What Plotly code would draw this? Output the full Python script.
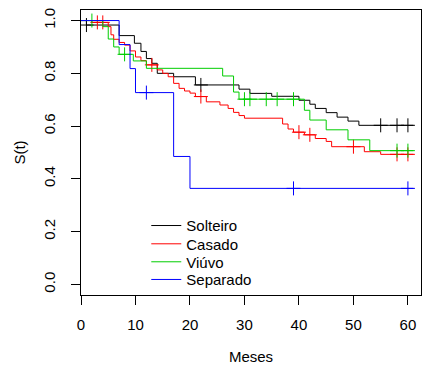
import plotly.graph_objects as go

# ---- data ----
groups = ["Solteiro", "Casado", "Viúvo", "Separado"]
colors = ["#000000", "#FF0000", "#00CD00", "#0000FF"]

solteiro_t = [0, 1, 7, 9.8, 11, 12, 13, 14, 17, 21, 29, 31, 35, 40, 42, 43, 45, 47, 49, 51]
solteiro_s = [1.0, 0.983, 0.943, 0.914, 0.883, 0.856, 0.838, 0.800, 0.787, 0.756,
              0.740, 0.724, 0.713, 0.698, 0.683, 0.667, 0.651, 0.634, 0.619, 0.603]
solteiro_cens = [1, 22, 55, 58, 60]

casado_t = [0, 2, 5, 5.5, 6, 7, 8, 9, 10, 11, 12, 14, 15, 16, 17, 18, 19, 20, 21,
            23, 25.5, 27, 28, 29, 30, 37, 38, 39, 41, 43, 45, 46, 52, 55]
casado_s = [1.0, 0.993, 0.977, 0.946, 0.929, 0.917, 0.907, 0.885, 0.862, 0.848, 0.832,
            0.813, 0.800, 0.787, 0.762, 0.743, 0.733, 0.725, 0.712, 0.692, 0.680, 0.667,
            0.652, 0.640, 0.630, 0.608, 0.589, 0.577, 0.567, 0.553, 0.542, 0.522, 0.503, 0.493]
casado_cens = [3, 4, 13, 22, 40, 42, 50, 58, 60]

viuvo_t = [0, 4, 5, 6, 7, 9.6, 12, 26, 28, 29, 41, 42, 45, 49, 53]
viuvo_s = [1.0, 0.977, 0.930, 0.900, 0.872, 0.847, 0.819, 0.790, 0.729, 0.702,
           0.660, 0.623, 0.586, 0.548, 0.507]
viuvo_cens = [2, 8, 30, 31, 34, 36, 39, 58, 60]

separado_t = [0, 7, 9, 10, 17, 20]
separado_s = [1.0, 0.909, 0.818, 0.727, 0.485, 0.364]
separado_cens = [12, 39, 60]

end_time = 61
x_ticks = [0, 10, 20, 30, 40, 50, 60]
y_ticks = [0.0, 0.2, 0.4, 0.6, 0.8, 1.0]
y_ticktext = ["0.0", "0.2", "0.4", "0.6", "0.8", "1.0"]

series = [
    (solteiro_t, solteiro_s, solteiro_cens),
    (casado_t, casado_s, casado_cens),
    (viuvo_t, viuvo_s, viuvo_cens),
    (separado_t, separado_s, separado_cens),
]


def step_value(ts, ss, t):
    v = ss[0]
    for ti, si in zip(ts, ss):
        if ti <= t:
            v = si
    return v


FONT = "Liberation Sans, Arial, Helvetica, sans-serif"
fig = go.Figure()
legend_names = ["legend", "legend2", "legend3", "legend4"]
for i, (name, col, (ts, ss, cs)) in enumerate(zip(groups, colors, series)):
    fig.add_trace(go.Scatter(
        x=list(ts) + [end_time], y=list(ss) + [ss[-1]],
        mode="lines", line=dict(color=col, width=1, shape="hv"),
        name=name, legend=legend_names[i], hoverinfo="skip"))
    fig.add_trace(go.Scatter(
        x=cs, y=[step_value(ts, ss, c) for c in cs],
        mode="markers",
        marker=dict(symbol="cross-thin", size=10, line=dict(color=col, width=1)),
        showlegend=False, hoverinfo="skip"))

axis_common = dict(
    showline=True, mirror=True, linecolor="black", linewidth=1,
    ticks="outside", ticklen=9, tickwidth=1, tickcolor="black",
    showgrid=False, zeroline=False,
    tickfont=dict(family=FONT, size=15, color="black"),
)

fig.update_xaxes(range=[0, 62.4], tickvals=x_ticks, ticklabelstandoff=7,
                 title=dict(text="Meses", font=dict(family=FONT, size=15, color="black"), standoff=19),
                 **axis_common)
fig.update_yaxes(range=[-0.04, 1.04], tickvals=y_ticks, ticktext=y_ticktext, tickangle=-90,
                 ticklabelstandoff=10,
                 title=dict(text="S(t)", font=dict(family=FONT, size=15, color="black"), standoff=11),
                 **axis_common)

PL, PR, PT, PB = 80.7, 0.7, 10, 77.7
H = 373
plot_h = H - PT - PB
row_centers = [226, 244.3, 262.3, 280]
layout_legends = {}
for ln, yc in zip(legend_names, row_centers):
    layout_legends[ln] = dict(
        x=0.192, xanchor="left", y=(H - PB - yc) / plot_h, yanchor="middle",
        bgcolor="rgba(0,0,0,0)", borderwidth=0,
        font=dict(family=FONT, size=15, color="black"))

fig.update_layout(
    width=422, height=373,
    margin=dict(l=PL, r=PR, t=PT, b=PB, pad=0),
    plot_bgcolor="white", paper_bgcolor="white",
    font=dict(family=FONT, size=15, color="black"),
    **layout_legends,
)

fig.write_html("out.html")
